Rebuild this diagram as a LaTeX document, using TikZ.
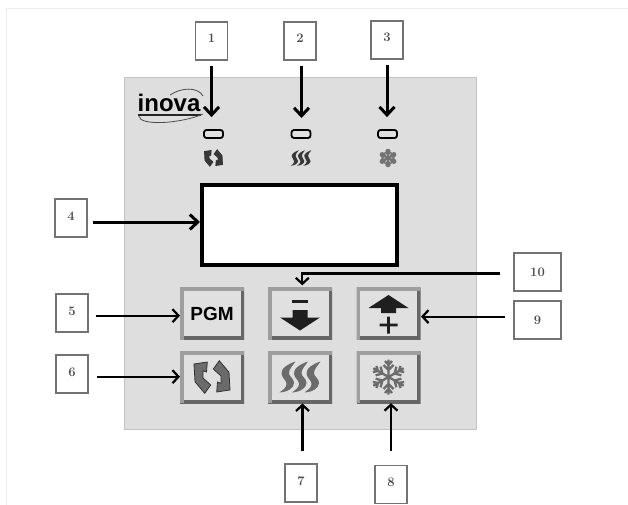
\documentclass[tikz,border=0pt]{standalone}
\usepackage{fontspec}
\newfontfamily\logofont{Liberation Sans}
\usetikzlibrary{arrows.meta,positioning,calc}
\definecolor{panelgray}{gray}{0.87}
\definecolor{panelline}{gray}{0.76}
\definecolor{keyface}{gray}{0.88}
\definecolor{keylight}{gray}{0.62}
\definecolor{keydark}{gray}{0.40}
\definecolor{icongray}{gray}{0.42}
\definecolor{iconsmall}{gray}{0.22}
\tikzset{
  numbox/.style={draw=black!55, line width=1.1pt, fill=white, minimum width=32pt, minimum height=38pt, inner sep=0pt, text=black!70, text height=9pt, text depth=5pt, font=\bfseries\fontsize{13}{15}\selectfont},
  led/.style={draw=black, line width=1.8pt, fill=keyface, rounded corners=2.5pt, minimum width=19pt, minimum height=8pt, inner sep=0pt},
  keybtn/.style={minimum width=64pt, minimum height=52pt, inner sep=0pt, fill=keyface,
    path picture={
      \draw[keydark, line width=7pt] (path picture bounding box.north east) -- (path picture bounding box.south east) -- (path picture bounding box.south west);
      \draw[keylight, line width=7pt] (path picture bounding box.south west) -- (path picture bounding box.north west) -- (path picture bounding box.north east);
    }},
  heavyarrow/.style={-{Straight Barb[length=8pt,width=15pt]}, line width=3pt},
  midarrow/.style={-{Straight Barb[length=6pt,width=13pt]}, line width=2.2pt},
  flame/.pic={
    \foreach \dx in {-1,0,1}
      \fill[shift={(\dx*12.5,0)}] (8,-15.5) .. controls (0,-13) and (-7,-8) .. (-6,-3) .. controls (-5,2) and (-1,3) .. (-1,7) .. controls (-1,11) and (-5,13) .. (-8,15.5)
        .. controls (0,15) and (6.5,11) .. (6.5,6) .. controls (6.5,1) and (1.5,0) .. (1.5,-4) .. controls (1.5,-8) and (5,-11) .. (8,-15.5) -- cycle;
  },
  flake/.pic={
    \foreach \ang in {30,90,...,330} {
      \draw[line width=2.3pt, rotate=\ang] (0,0) -- (17.5,0) (7,0) -- (12,-5) (7,0) -- (12,5) (12,0) -- (16,-3.5) (12,0) -- (16,3.5);
    }
  },
  cycler/.pic={
    \foreach \ang in {0,180}
      \filldraw[draw=black!80, line width=0.8pt, rotate=\ang] (-18,-13) -- (-4.7,-15) -- (-5.5,-5) -- (-9,-6.3) -- (-9,1) -- (-1.3,8) -- (-7.3,16.3) -- (-17,4.7) -- cycle;
  },
  arrowdown/.pic={
    \fill (-8,-14) rectangle (8,-11);
    \fill (-7.5,-3.5) -- (7.5,-3.5) -- (7.5,4) -- (20,4) -- (0,17) -- (-20,4) -- (-7.5,4) -- cycle;
  },
  arrowup/.pic={
    \fill (0,-18.5) -- (20,-5.5) -- (7.5,-5.5) -- (7.5,-0.5) -- (-7.5,-0.5) -- (-7.5,-5.5) -- (-20,-5.5) -- cycle;
    \fill (-9,10.2) rectangle (9,12.8) (-1.3,3) rectangle (1.3,20);
  }
}
\begin{document}
\begin{tikzpicture}[x=1pt,y=-1pt]
  \useasboundingbox (0,0) rectangle (628,505);
  \draw[black!7, line width=0.6pt] (628,8) -- (6,8) -- (6,505);
  % panel and display
  \node[draw=panelline, line width=1.5pt, fill=panelgray, minimum width=352pt, minimum height=352pt, inner sep=0pt] (panel) at (300.5,253.5) {};
  \node[draw=black, line width=4pt, fill=white, minimum width=195pt, minimum height=80pt, inner sep=0pt] (display) at (299,224.5) {};
  % logo
  \node[font=\logofont\bfseries\fontsize{24}{24}\selectfont, inner sep=0pt, anchor=base west] (logo) at (137.5,112) {inova};
  \draw[black!85, line width=1.5pt] ($(logo.base west)+(0.5,3)$) -- ($(logo.base east)+(0,3)$);
  \draw[black!70, line width=0.8pt] (139,116) .. controls (139,126) and (180,124) .. (203,114)
    (170,95) .. controls (182,87) and (198,87) .. (203,96);
  % leds and small icons
  \node[led] (led1) at (213.5,134) {};
  \node[led, right=87.5pt of led1.center, anchor=center] (led2) {};
  \node[led, right=86.5pt of led2.center, anchor=center] (led3) {};
  \pic[scale=0.5, color=iconsmall] at (213.5,158) {cycler};
  \pic[scale=0.5, color=iconsmall] at (301,158) {flame};
  \pic[scale=0.52, color=black!55] at (388,158) {flake};
  % keys
  \node[keybtn, font=\logofont\bfseries\fontsize{19}{19}\selectfont] (pgm) at (212,313.5) {PGM};
  \node[keybtn] (minus) at (300,313.5) {};
  \node[keybtn] (plus) at (388.5,313.5) {};
  \node[keybtn] (cycle) at (212,377) {};
  \node[keybtn] (heat) at (300,377) {};
  \node[keybtn] (cool) at (388.5,377) {};
  \pic[color=black!88] at (300,313.5) {arrowdown};
  \pic[color=black!88] at (388.5,313.5) {arrowup};
  \pic[color=icongray] at (212,377) {cycler};
  \pic[color=icongray] at (300,377) {flame};
  \pic[color=icongray] at (388.5,377) {flake};
  % number boxes
  \node[numbox] (n1) at (211.5,41) {1};
  \node[numbox] (n2) at (300,41) {2};
  \node[numbox] (n3) at (387,40) {3};
  \node[numbox] (n4) at (71,218) {4};
  \node[numbox] (n5) at (72,313) {5};
  \node[numbox] (n6) at (72,374) {6};
  \node[numbox] (n7) at (301,483) {7};
  \node[numbox] (n8) at (391,484.5) {8};
  \node[numbox, minimum width=47pt, text depth=0pt] (n9) at (537.5,320) {9};
  \node[numbox, minimum width=47pt, text depth=0pt] (n10) at (537.5,272) {10};
  % arrows
  \coordinate (aim2) at (301.5,130);
  \coordinate (aim4) at (200,222);
  \coordinate (aim5) at (180,315.7);
  \coordinate (aim6) at (180,376.7);
  \coordinate (aim7) at (302.5,403.5);
  \coordinate (aim9) at (421,316.6);
  \coordinate (bend10) at (302.3,273.5);
  \draw[heavyarrow, shorten <=5pt, shorten >=12pt] (n1) -- (n1 |- led1.north);
  \draw[heavyarrow, shorten <=5pt, shorten >=12pt] (aim2 |- n2.south) -- (aim2);
  \draw[heavyarrow, shorten <=5pt, shorten >=12pt] (n3) -- (n3 |- led3.north);
  \draw[heavyarrow, shorten <=5pt] (n4.east |- aim4) -- (aim4);
  \draw[midarrow, shorten <=7pt] (n5.east |- aim5) -- (aim5);
  \draw[midarrow, shorten <=8pt] (n6.east |- aim6) -- (aim6);
  \draw[midarrow, shorten <=12pt] (aim7 |- n7.north) -- (aim7);
  \draw[midarrow, shorten <=14pt] (n8.north) -- (cool.south -| n8);
  \draw[midarrow, shorten <=8pt] (n9.west |- aim9) -- (aim9);
  \draw[midarrow, shorten <=13pt, shorten >=2pt] (n10.west |- bend10) -- (bend10) -- (bend10 |- minus.north);
\end{tikzpicture}
\end{document}
